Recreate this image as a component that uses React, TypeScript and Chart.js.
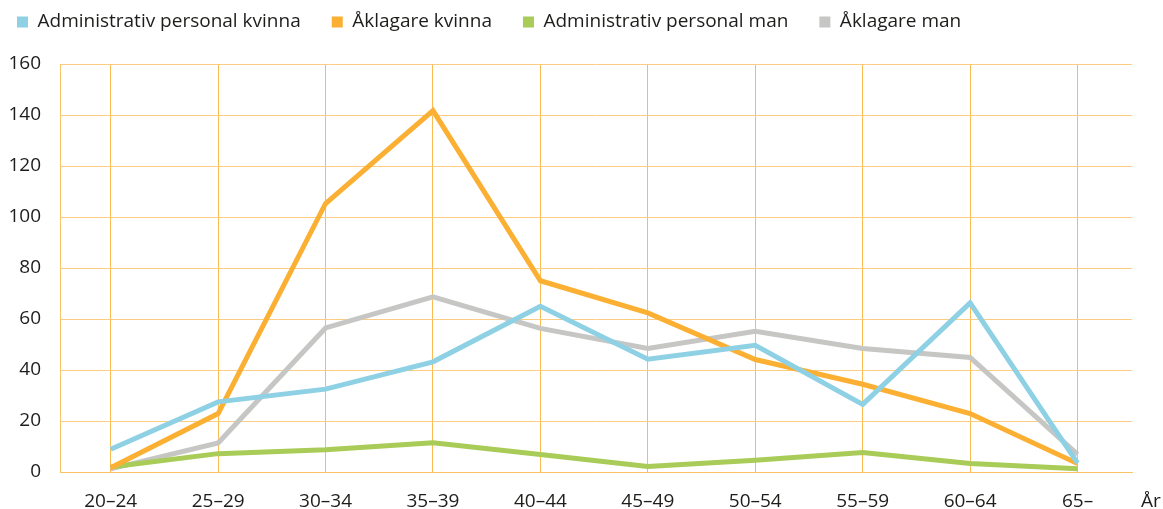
import React, { useEffect, useRef } from "react";
import { Chart, registerables } from "chart.js";

Chart.register(...registerables);

const categories = ["20–24", "25–29", "30–34", "35–39", "40–44", "45–49", "50–54", "55–59", "60–64", "65–"];
const adminKvinna = [8.9, 27.5, 32.5, 43.2, 65, 44.2, 49.7, 26.5, 66.3, 3.5];
const aklagareKvinna = [1.7, 22.9, 105.3, 141.7, 75, 62.4, 44.1, 34.4, 22.9, 3.3];
const adminMan = [2, 7.2, 8.7, 11.5, 6.9, 2.2, 4.6, 7.6, 3.3, 1.3];
const aklagareMan = [1.2, 11.4, 56.5, 68.7, 56.3, 48.4, 55.2, 48.4, 44.9, 6.9];
const yTicks = [0, 20, 40, 60, 80, 100, 120, 140, 160];
const axisUnit = "År";

const FONT = '"Open Sans", sans-serif';
const TEXT = "#1d1d1b";

const toPoints = (vals: number[]) => vals.map((v, i) => ({ x: i, y: v }));

export default function App() {
  const ref = useRef<HTMLCanvasElement | null>(null);

  useEffect(() => {
    if (!ref.current) return;
    const mk = (label: string, data: number[], color: string) => ({
      label,
      data: toPoints(data),
      borderColor: color,
      backgroundColor: color,
      borderWidth: 5,
      pointRadius: 0,
      pointHoverRadius: 0,
      tension: 0,
      fill: false,
    });

    const legendShift = {
      id: "legendShift",
      afterLayout(chart: any) {
        const lg = chart.legend;
        if (!lg) return;
        const dy = -18.5 - lg.top;
        lg.top += dy;
        lg.bottom += dy;
        const dx = -14 - lg.left;
        lg.left += dx;
        lg.right += dx;
      },
    };

    const unitLabel = {
      id: "unitLabel",
      afterDraw(chart: any) {
        const { ctx, chartArea } = chart;
        ctx.save();
        ctx.font = `19px ${FONT}`;
        ctx.fillStyle = TEXT;
        ctx.textAlign = "center";
        ctx.textBaseline = "middle";
        ctx.fillText(axisUnit, chartArea.right + 19, chartArea.bottom + 18 + 11.4);
        ctx.restore();
      },
    };

    const chart = new Chart(ref.current, {
      type: "line",
      data: {
        datasets: [
          mk("Administrativ personal kvinna", adminKvinna, "#8ed1e4"),
          mk("Åklagare kvinna", aklagareKvinna, "#fbb033"),
          mk("Administrativ personal man", adminMan, "#a9cb57"),
          mk("Åklagare man", aklagareMan, "#c6c6c5"),
        ],
      },
      options: {
        animation: false,
        responsive: true,
        maintainAspectRatio: false,
        layout: { padding: { top: 4, left: 0, right: 31, bottom: 0 } },
        plugins: {
          tooltip: { enabled: false },
          legend: {
            position: "top",
            align: "start",
            labels: {
              boxWidth: 11,
              boxHeight: 11,
              padding: 31,
              color: TEXT,
              font: { family: FONT, size: 19 },
              generateLabels: (c: any) =>
                Chart.defaults.plugins.legend.labels.generateLabels(c).map((it: any) => ({
                  ...it,
                  lineWidth: 0,
                  strokeStyle: "rgba(0,0,0,0)",
                })),
            },
          },
        },
        scales: {
          x: {
            type: "linear",
            min: -0.472,
            max: 9.507,
            afterBuildTicks: (scale: any) => {
              scale.ticks = categories.map((_, i) => ({ value: i }));
            },
            afterFit: (scale: any) => {
              scale.height = 37;
            },
            grid: { color: "#f9bb52", lineWidth: 1, drawTicks: false },
            border: { display: true, color: "#fac465", width: 1 },
            ticks: {
              autoSkip: false,
              maxRotation: 0,
              padding: 18,
              color: TEXT,
              font: { family: FONT, size: 19 },
              callback: (v: any) => categories[Math.round(Number(v))] ?? "",
            },
          },
          y: {
            min: 0,
            max: 160,
            afterBuildTicks: (scale: any) => {
              scale.ticks = yTicks.map((v) => ({ value: v }));
            },
            afterFit: (scale: any) => {
              scale.width = 60;
            },
            grid: { color: "#fbcd82", lineWidth: 1, drawTicks: false },
            border: { display: true, color: "#fac465", width: 1 },
            ticks: {
              padding: 19,
              color: TEXT,
              font: { family: FONT, size: 19 },
            },
          },
        },
      },
      plugins: [legendShift, unitLabel],
    } as any);

    return () => chart.destroy();
  }, []);

  return (
    <div style={{ position: "absolute", left: 0, top: 0, width: 1163, height: 509 }}>
      <canvas ref={ref} />
    </div>
  );
}
